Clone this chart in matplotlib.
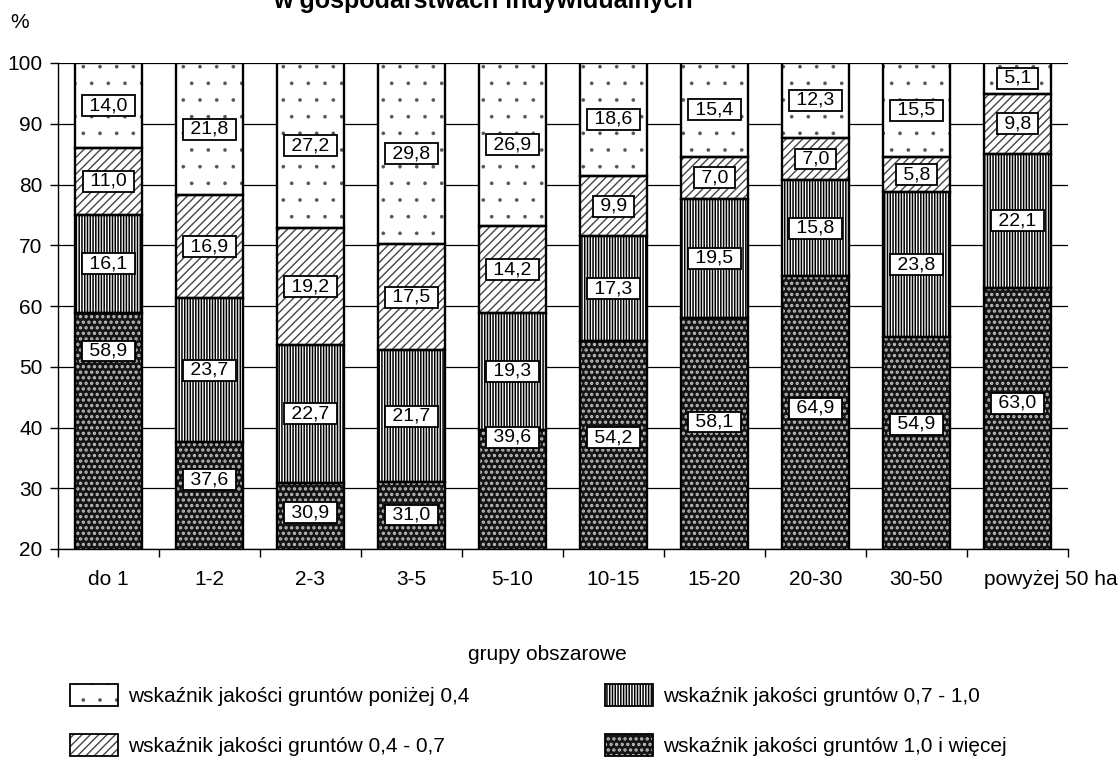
import matplotlib
matplotlib.use("Agg")
import matplotlib.pyplot as plt
from matplotlib.patches import Rectangle
from matplotlib.transforms import ScaledTranslation
import numpy as np

plt.rcParams['font.family'] = ['Liberation Sans', 'DejaVu Sans']
plt.rcParams['hatch.linewidth'] = 1.0

categories = ["do 1", "1-2", "2-3", "3-5", "5-10", "10-15", "15-20", "20-30", "30-50", "powyżej 50 ha"]
q_10 = [58.9, 37.6, 30.9, 31.0, 39.6, 54.2, 58.1, 64.9, 54.9, 63.0]   # 1,0 i więcej
q_07 = [16.1, 23.7, 22.7, 21.7, 19.3, 17.3, 19.5, 15.8, 23.8, 22.1]   # 0,7 - 1,0
q_04 = [11.0, 16.9, 19.2, 17.5, 14.2, 9.9, 7.0, 7.0, 5.8, 9.8]        # 0,4 - 0,7
q_00 = [14.0, 21.8, 27.2, 29.8, 26.9, 18.6, 15.4, 12.3, 15.5, 5.1]    # poniżej 0,4
# where the labels of the bottom series sit (axis units), as in the original
q_10_label_at = [52.6, 31.4, 26.0, 25.6, 38.4, 38.3, 40.9, 43.2, 40.5, 44.0]

names = ["wskaźnik jakości gruntów poniżej 0,4",
         "wskaźnik jakości gruntów 0,4 - 0,7",
         "wskaźnik jakości gruntów 0,7 - 1,0",
         "wskaźnik jakości gruntów 1,0 i więcej"]

styles = {
    "00": dict(fc="white", hc="#555555", hatch=".", hlw=0.2),
    "04": dict(fc="white", hc="#444444", hatch="////", hlw=1.0),
    "07": dict(fc="white", hc="black", hatch="||||||", hlw=1.1),
    "10": dict(fc="#151515", hc="#bdbdbd", hatch="...", hlw=1.6),
}

def set_hlw(patch, lw):
    if hasattr(patch, "set_hatch_linewidth"):
        patch.set_hatch_linewidth(lw)

fig = plt.figure(figsize=(11.2, 7.65), dpi=100)
ax = fig.add_axes([58/1120, 1-549/765, 1010/1120, 486/765])

x = np.arange(len(categories))
w = 0.67
series = [("10", q_10), ("07", q_07), ("04", q_04), ("00", q_00)]
bottom = np.zeros(len(categories))
for key, vals in series:
    st = styles[key]
    v = np.array(vals)
    with plt.rc_context({"hatch.linewidth": st["hlw"]}):
        bars = ax.bar(x, v, w, bottom=bottom, color=st["fc"], edgecolor=st["hc"],
                      hatch=st["hatch"], linewidth=0, zorder=2)
    for b in bars:
        set_hlw(b, st["hlw"])
    ax.bar(x, v, w, bottom=bottom, fill=False, edgecolor="black",
           linewidth=1.7, zorder=3)
    for i in range(len(v)):
        if key == "10":
            yl = q_10_label_at[i]
        else:
            yl = bottom[i] + v[i] / 2
        ax.text(x[i], yl, " " + f"{v[i]:.1f}".replace(".", ",") + " ", ha="center", va="center",
                fontsize=14, zorder=5,
                bbox=dict(boxstyle="square,pad=0.1", fc="white", ec="black", lw=1.3))
    bottom = bottom + v

ax.set_xlim(-0.5, len(categories) - 0.5)
ax.set_ylim(20, 100)
ax.set_yticks(np.arange(20, 101, 10))
ax.yaxis.grid(True, color="black", linewidth=0.9)
ax.set_axisbelow(True)
ax.set_xticks(x)
ax.set_xticklabels(categories)
ax.set_xticks(np.arange(-0.5, len(categories)), minor=True)
ax.tick_params(axis="x", which="major", length=0, pad=15, labelsize=15)
ax.tick_params(axis="x", which="minor", length=6, width=1, direction="out")
ax.tick_params(axis="y", length=6, width=1, pad=5, labelsize=15)
for s in ["top", "right"]:
    ax.spines[s].set_visible(False)
ax.spines["left"].set_linewidth(1)
ax.spines["bottom"].set_linewidth(1)

# the last category label sits further right in the original
last = ax.get_xticklabels()[-1]
last.set_transform(last.get_transform() + ScaledTranslation(0.33, 0, fig.dpi_scale_trans))

fig.text(273/1120, 1-8/765, "w gospodarstwach indywidualnych", ha="left",
         va="baseline", fontsize=18, fontweight="bold")
fig.text(10/1120, 1-22/765, "%", ha="left", va="center", fontsize=15)
fig.text(547/1120, 1-655/765, "grupy obszarowe", ha="center", va="center", fontsize=15)

legend_items = [("00", names[0], 70, 118, 128, 697),
                ("04", names[1], 70, 118, 128, 747),
                ("07", names[2], 605, 653, 663, 697),
                ("10", names[3], 605, 653, 663, 747)]
for key, name, x0, x1, tx, yc in legend_items:
    st = styles[key]
    h = 22
    with plt.rc_context({"hatch.linewidth": st["hlw"]}):
        r1 = Rectangle((x0/1120, 1-(yc+9)/765), (x1-x0)/1120, h/765, transform=fig.transFigure,
                       facecolor=st["fc"], edgecolor=st["hc"], hatch=st["hatch"], linewidth=0)
    set_hlw(r1, st["hlw"])
    r2 = Rectangle((x0/1120, 1-(yc+9)/765), (x1-x0)/1120, h/765, transform=fig.transFigure,
                   fill=False, edgecolor="black", linewidth=1.3)
    fig.add_artist(r1)
    fig.add_artist(r2)
    fig.text(tx/1120, 1-yc/765, name, ha="left", va="center", fontsize=15)

fig.savefig("out.png", dpi=100)
